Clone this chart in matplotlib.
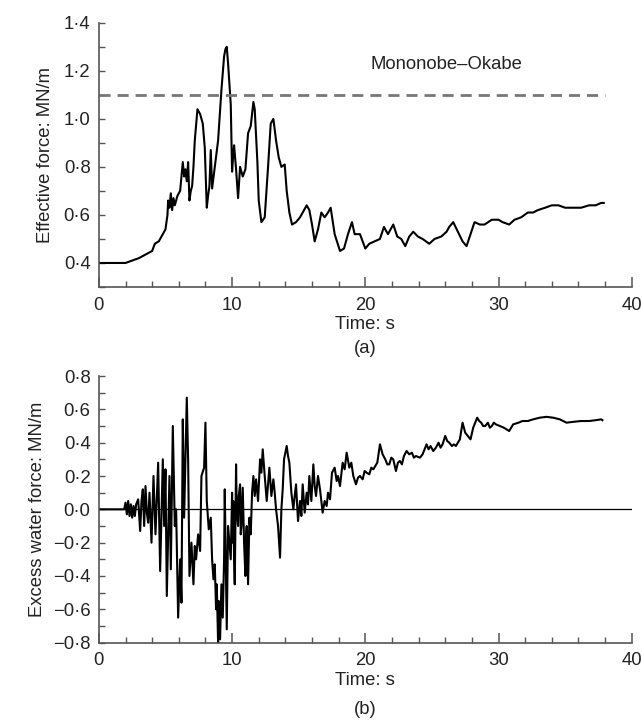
import matplotlib
import matplotlib.pyplot as plt
from matplotlib.ticker import MultipleLocator, FuncFormatter

matplotlib.use("Agg")

plt.rcParams["font.family"] = ["Liberation Sans", "DejaVu Sans"]

# (a) effective force
time_a = [0, 2.0, 2.5, 3.0, 3.5, 4.0, 4.2, 4.5, 4.8, 5.0,
          5.15, 5.2, 5.3, 5.4, 5.5, 5.6, 5.7, 5.9, 6.1, 6.2,
          6.3, 6.4, 6.5, 6.6, 6.7, 6.8, 6.9, 7.0, 7.1, 7.2,
          7.4, 7.6, 7.8, 7.95, 8.1, 8.2, 8.3, 8.4, 8.5, 8.7,
          8.95, 9.2, 9.4, 9.5, 9.6, 9.7, 9.9, 10.0, 10.1, 10.15,
          10.3, 10.45, 10.6, 10.8, 11.0, 11.2, 11.4, 11.6, 11.7, 11.9,
          12.0, 12.2, 12.45, 12.7, 12.9, 13.1, 13.3, 13.5, 13.7, 13.95,
          14.1, 14.3, 14.5, 14.8, 15.1, 15.3, 15.6, 15.8, 16.0, 16.2,
          16.45, 16.7, 16.95, 17.2, 17.4, 17.7, 18.1, 18.4, 18.7, 19.0,
          19.2, 19.6, 20.0, 20.3, 20.7, 21.1, 21.4, 21.7, 22.1, 22.4,
          22.7, 23.0, 23.3, 23.6, 23.95, 24.3, 24.8, 25.2, 25.7, 26.1,
          26.3, 26.6, 26.95, 27.3, 27.6, 27.9, 28.2, 28.6, 28.95, 29.5,
          30.0, 30.3, 30.8, 31.2, 31.7, 32.2, 32.6, 32.95, 33.5, 34.0,
          34.5, 35.0, 35.7, 36.2, 36.8, 37.3, 37.7, 37.9]
force_a = [0.40, 0.40, 0.41, 0.42, 0.435, 0.45, 0.48, 0.49, 0.52, 0.54,
           0.60, 0.66, 0.63, 0.69, 0.62, 0.67, 0.64, 0.68, 0.70, 0.76,
           0.82, 0.76, 0.79, 0.74, 0.82, 0.66, 0.70, 0.72, 0.80, 0.91,
           1.04, 1.02, 0.98, 0.88, 0.63, 0.68, 0.72, 0.87, 0.71, 0.80,
           0.91, 1.12, 1.26, 1.29, 1.30, 1.23, 1.06, 0.78, 0.86, 0.89,
           0.79, 0.67, 0.80, 0.76, 0.79, 0.94, 0.97, 1.07, 1.04, 0.82,
           0.66, 0.57, 0.59, 0.80, 0.98, 1.00, 0.91, 0.84, 0.80, 0.81,
           0.70, 0.61, 0.56, 0.57, 0.59, 0.61, 0.64, 0.62, 0.56, 0.49,
           0.54, 0.61, 0.59, 0.61, 0.63, 0.52, 0.45, 0.46, 0.52, 0.57,
           0.52, 0.52, 0.46, 0.48, 0.49, 0.50, 0.55, 0.52, 0.56, 0.51,
           0.50, 0.47, 0.51, 0.53, 0.51, 0.50, 0.48, 0.50, 0.51, 0.53,
           0.55, 0.57, 0.53, 0.49, 0.47, 0.52, 0.57, 0.56, 0.56, 0.58,
           0.58, 0.57, 0.56, 0.58, 0.59, 0.61, 0.61, 0.62, 0.63, 0.64,
           0.64, 0.63, 0.63, 0.63, 0.64, 0.64, 0.65, 0.65]

mo_level = 1.1
mo_end = 38.0

# (b) excess water force
time_b = [0, 1.9, 2.0, 2.1, 2.2, 2.3, 2.4, 2.5, 2.6, 2.7,
          2.8, 2.95, 3.1, 3.2, 3.3, 3.4, 3.5, 3.6, 3.7, 3.8,
          3.95, 4.1, 4.25, 4.45, 4.6, 4.8, 4.9, 5.0, 5.1, 5.3,
          5.4, 5.55, 5.7, 5.8, 5.95, 6.1, 6.2, 6.3, 6.4, 6.6,
          6.7, 6.8, 6.95, 7.1, 7.2, 7.3, 7.45, 7.6, 7.7, 7.9,
          8.0, 8.1, 8.25, 8.4, 8.5, 8.6, 8.7, 8.8, 8.85, 8.95,
          9.0, 9.1, 9.2, 9.3, 9.4, 9.45, 9.6, 9.7, 9.9, 10.0,
          10.05, 10.1, 10.15, 10.2, 10.3, 10.35, 10.45, 10.5, 10.6, 10.65,
          10.7, 10.8, 10.9, 11.0, 11.05, 11.1, 11.2, 11.3, 11.4, 11.5,
          11.6, 11.7, 11.8, 11.95, 12.1, 12.2, 12.3, 12.45, 12.6, 12.7,
          12.8, 12.95, 13.1, 13.2, 13.3, 13.45, 13.6, 13.7, 13.8, 13.9,
          14.1, 14.2, 14.3, 14.45, 14.6, 14.7, 14.8, 14.95, 15.1, 15.2,
          15.3, 15.45, 15.6, 15.7, 15.8, 15.95, 16.1, 16.2, 16.3, 16.45,
          16.6, 16.8, 16.95, 17.1, 17.2, 17.35, 17.5, 17.7, 17.85, 17.95,
          18.1, 18.3, 18.45, 18.6, 18.8, 18.95, 19.1, 19.3, 19.45, 19.6,
          19.8, 19.95, 20.1, 20.3, 20.45, 20.6, 20.9, 21.1, 21.3, 21.5,
          21.65, 21.8, 21.95, 22.1, 22.3, 22.45, 22.6, 22.75, 22.9, 23.1,
          23.3, 23.5, 23.65, 23.8, 24.1, 24.3, 24.6, 24.75, 24.9, 25.1,
          25.3, 25.5, 25.65, 25.8, 26.0, 26.15, 26.3, 26.5, 26.65, 26.8,
          26.95, 27.1, 27.3, 27.5, 27.7, 27.9, 28.1, 28.4, 28.55, 28.7,
          28.85, 29.0, 29.2, 29.35, 29.5, 29.65, 29.8, 30.1, 30.4, 30.8,
          31.1, 31.5, 31.8, 32.2, 32.6, 33.1, 33.6, 34.1, 34.6, 35.1,
          35.6, 36.2, 36.8, 37.3, 37.7, 37.8]
force_b = [0.0, 0.0, 0.04, -0.03, 0.05, -0.04, 0.03, -0.05, 0.02, -0.04,
           0.03, 0.06, -0.13, 0.05, 0.12, -0.10, 0.14, -0.02, -0.08, 0.10,
           -0.20, 0.20, -0.15, 0.28, -0.37, 0.30, -0.10, 0.24, -0.52, 0.20,
           -0.36, 0.50, -0.10, 0.0, -0.65, -0.30, -0.56, 0.54, -0.05, 0.67,
           0.30, -0.40, -0.20, -0.45, -0.22, -0.30, -0.15, -0.25, 0.20, 0.25,
           0.52, 0.05, -0.12, -0.05, -0.30, -0.42, -0.33, -0.60, -0.45, -0.80,
           -0.55, -0.78, -0.45, -0.65, -0.30, 0.12, -0.72, -0.10, -0.30, 0.10,
           -0.20, 0.05, -0.30, -0.45, 0.27, 0.0, -0.10, 0.08, 0.15, -0.15,
           -0.10, 0.13, -0.20, -0.40, -0.15, -0.10, -0.45, -0.05, -0.15, 0.10,
           0.20, 0.08, 0.18, 0.05, 0.30, 0.22, 0.36, 0.20, 0.05, 0.15,
           0.25, 0.08, 0.18, 0.10, 0.0, -0.10, -0.29, 0.0, 0.12, 0.30,
           0.38, 0.32, 0.28, 0.10, 0.0, 0.08, 0.15, -0.07, 0.05, -0.04,
           0.15, -0.02, 0.10, 0.03, 0.20, 0.05, 0.27, 0.14, 0.08, 0.20,
           0.12, -0.02, 0.05, 0.02, 0.10, 0.06, 0.22, 0.25, 0.17, 0.20,
           0.14, 0.28, 0.24, 0.34, 0.25, 0.28, 0.20, 0.15, 0.19, 0.20,
           0.18, 0.23, 0.22, 0.21, 0.25, 0.24, 0.28, 0.39, 0.33, 0.30,
           0.27, 0.27, 0.31, 0.30, 0.23, 0.28, 0.29, 0.27, 0.32, 0.35,
           0.33, 0.34, 0.31, 0.32, 0.31, 0.33, 0.39, 0.36, 0.38, 0.35,
           0.37, 0.40, 0.37, 0.39, 0.44, 0.41, 0.40, 0.38, 0.39, 0.38,
           0.40, 0.42, 0.52, 0.46, 0.44, 0.42, 0.49, 0.55, 0.53, 0.52,
           0.50, 0.50, 0.52, 0.49, 0.50, 0.52, 0.51, 0.50, 0.49, 0.47,
           0.51, 0.52, 0.53, 0.53, 0.54, 0.55, 0.555, 0.55, 0.54, 0.52,
           0.525, 0.53, 0.53, 0.535, 0.54, 0.535]

x_ticks = [0, 10, 20, 30, 40]

FS = 13.3


def dot_fmt(v, pos):
    # journal style: middle dot decimal, true minus sign
    if abs(v) < 1e-9:
        return "0·0"
    s = f"{abs(v):.1f}".replace(".", "·")
    return ("−" + s) if v < 0 else s


def style_axis(ax):
    for side in ["top", "right"]:
        ax.spines[side].set_visible(False)
    for side in ["left", "bottom"]:
        ax.spines[side].set_color("#555555")
        ax.spines[side].set_linewidth(1.2)
    ax.set_xlim(0, 40)
    ax.set_xticks(x_ticks)
    ax.xaxis.set_minor_locator(MultipleLocator(2))
    ax.yaxis.set_major_locator(MultipleLocator(0.2))
    ax.yaxis.set_minor_locator(MultipleLocator(0.1))
    ax.yaxis.set_major_formatter(FuncFormatter(dot_fmt))
    ax.tick_params(which="both", direction="in", color="#555555", labelsize=FS,
                   labelcolor="#222222")
    ax.tick_params(axis="x", which="major", length=7, width=1.1, pad=7)
    ax.tick_params(axis="x", which="minor", length=4, width=1.0)
    ax.tick_params(axis="y", which="both", length=4, width=1.0, pad=6)


fig = plt.figure(figsize=(6.42, 7.22), dpi=100)
ax1 = fig.add_axes([0.154, 0.6025, 0.830, 0.366])
ax2 = fig.add_axes([0.154, 0.1099, 0.830, 0.3693])

# top panel
ax1.plot(time_a, force_a, color="black", linewidth=1.5)
ax1.plot([0, mo_end], [mo_level, mo_level], color="#777777", linewidth=2,
         linestyle=(0, (4, 2.5)))
ax1.text(26.1, 1.225, "Mononobe–Okabe", fontsize=FS, ha="center", va="center",
         color="#222222")
ax1.set_ylim(0.3, 1.4)
style_axis(ax1)
ax1.set_xlabel("Time: s", fontsize=FS, color="#222222", labelpad=2)
ax1.set_ylabel("Effective force: MN/m", fontsize=FS, color="#222222", labelpad=7)

# bottom panel
ax2.axhline(0, color="black", linewidth=0.9)
ax2.plot(time_b, force_b, color="black", linewidth=1.5)
ax2.set_ylim(-0.8, 0.8)
style_axis(ax2)
ax2.set_xlabel("Time: s", fontsize=FS, color="#222222", labelpad=2)
ax2.set_ylabel("Excess water force: MN/m", fontsize=FS, color="#222222", labelpad=5)

fig.text(0.5 * (0.154 + 0.984), 1 - 348 / 722, "(a)", fontsize=FS,
         ha="center", va="center", color="#222222")
fig.text(0.5 * (0.154 + 0.984), 1 - 710 / 722, "(b)", fontsize=FS,
         ha="center", va="center", color="#222222")

fig.savefig("out.png", dpi=100)
plt.close(fig)
